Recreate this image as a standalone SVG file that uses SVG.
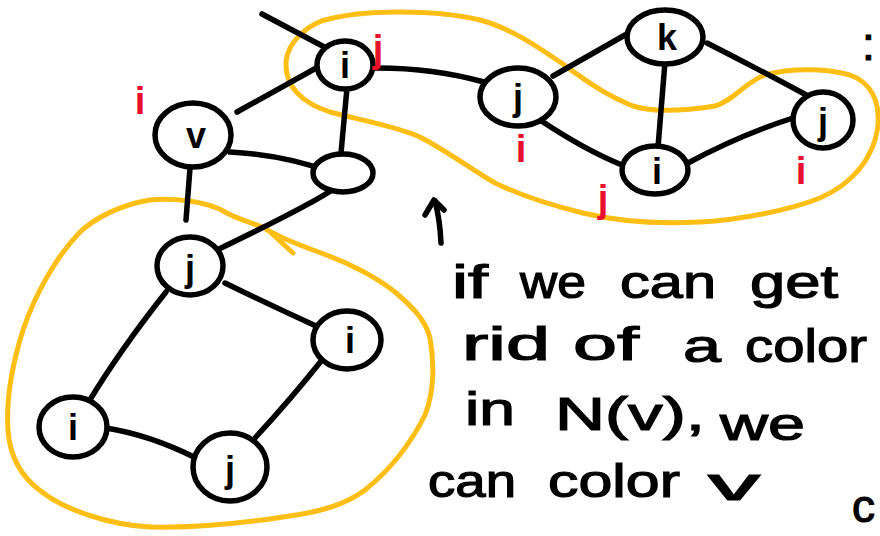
<svg xmlns="http://www.w3.org/2000/svg" width="880" height="536" viewBox="0 0 880 536">
  <style>
    .ink { fill: none; stroke: #000; stroke-width: 5.5; stroke-linecap: round; stroke-linejoin: round; }
    .node { fill: #fff; stroke: #000; stroke-width: 5.5; }
    .hl { fill: none; stroke: #FFBE14; stroke-width: 5; stroke-linecap: round; stroke-linejoin: round; }
    .lbl { font-family: "Liberation Sans", Arial, sans-serif; font-weight: bold; font-size: 36px; fill: #000; text-anchor: middle; }
    .red { font-family: "Liberation Sans", Arial, sans-serif; font-weight: bold; font-size: 38px; fill: #E8112D; text-anchor: middle; }
    .note { font-family: "Liberation Sans", Arial, sans-serif; font-size: 46px; fill: #000; stroke: #000; stroke-width: 1.2; }
  </style>
  <rect width="880" height="536" fill="#fff"/>

  <!-- highlight loops -->
  <g id="highlights">
    <path class="hl" d="M400,12 C430,12 455,14 480,20 C510,28 535,45 560,62 C585,80 605,95 633,106 C655,113 690,110 715,106 C735,100 745,82 765,75 C790,68 825,68 850,75 C870,82 880,100 878,125 C874,160 850,185 820,198 C790,210 740,220 700,222 C660,224 620,222 583,213 C550,205 520,195 495,183 C470,168 445,150 420,137 C395,126 360,120 330,112 C300,102 285,85 286,62 C288,40 310,22 333,18 C360,12 385,12 400,12 Z"/>
    <path class="hl" d="M293,253 L267,229 C250,222 235,218 225,212 C205,200 170,198 150,200 C120,205 95,218 80,232 C55,258 35,295 23,330 C12,365 6,400 8,430 C10,460 25,480 42,492 C65,510 110,525 150,527 C185,528 240,524 283,517 C320,512 345,505 365,490 C390,470 410,445 425,415 C435,390 434,360 430,338 C425,318 410,305 395,292 C380,280 365,272 350,265 C330,255 310,250 283,238 L267,230"/>
  </g>

  <!-- connectors -->
  <g id="edges" class="ink">
    <path d="M262,14 L330,50"/>
    <path d="M237,112 L318,67"/>
    <path d="M230,152 Q285,155 330,172"/>
    <path d="M347,88 L341,153"/>
    <path d="M190,168 L186,220"/>
    <path d="M332,190 Q310,205 217,250"/>
    <path d="M370,68 Q430,67 484,82"/>
    <path d="M553,76 L625,35"/>
    <path d="M540,120 Q585,150 622,165"/>
    <path d="M665,62 L658,147"/>
    <path d="M707,43 Q760,70 810,97"/>
    <path d="M688,163 Q740,135 793,118"/>
    <path d="M225,283 Q270,305 316,326"/>
    <path d="M166,292 Q120,350 88,403"/>
    <path d="M322,360 Q290,400 255,438"/>
    <path d="M106,428 Q150,435 196,458"/>
  </g>

  <!-- nodes -->
  <g id="node-v">
    <ellipse class="node" cx="193" cy="135" rx="38" ry="32"/>
    <text class="lbl" x="196" y="148">v</text>
  </g>
  <g id="node-i-top">
    <ellipse class="node" cx="345" cy="65" rx="28" ry="24"/>
    <text class="lbl" x="345" y="78">i</text>
  </g>
  <g id="node-blank">
    <ellipse class="node" cx="343" cy="173" rx="30" ry="19"/>
  </g>
  <g id="node-j-mid">
    <ellipse class="node" cx="518" cy="97" rx="38" ry="29"/>
    <text class="lbl" x="518" y="110">j</text>
  </g>
  <g id="node-k">
    <ellipse class="node" cx="665" cy="37" rx="38" ry="27"/>
    <text class="lbl" x="667" y="50">k</text>
  </g>
  <g id="node-i-low">
    <ellipse class="node" cx="655" cy="170" rx="33" ry="24"/>
    <text class="lbl" x="657" y="184">i</text>
  </g>
  <g id="node-j-right">
    <ellipse class="node" cx="823" cy="120" rx="30" ry="28"/>
    <text class="lbl" x="823" y="134">j</text>
  </g>
  <g id="node-j-a">
    <ellipse class="node" cx="190" cy="266" rx="33" ry="29"/>
    <text class="lbl" x="190" y="281">j</text>
  </g>
  <g id="node-i-a">
    <ellipse class="node" cx="347" cy="340" rx="34" ry="29"/>
    <text class="lbl" x="350" y="353">i</text>
  </g>
  <g id="node-i-b">
    <ellipse class="node" cx="73" cy="427" rx="34" ry="30"/>
    <text class="lbl" x="73" y="440">i</text>
  </g>
  <g id="node-j-b">
    <ellipse class="node" cx="230" cy="467" rx="37" ry="34"/>
    <text class="lbl" x="230" y="482">j</text>
  </g>

  <!-- colour swap marks -->
  <g id="swap-marks">
    <text class="red" x="140" y="114">i</text>
    <text class="red" x="378" y="62">j</text>
    <text class="red" x="521" y="162">i</text>
    <text class="red" x="603" y="212">j</text>
    <text class="red" x="801" y="184">i</text>
  </g>

  <!-- arrow pointing at the chain -->
  <g id="pointer" class="ink">
    <path d="M441,243 Q440,220 435,201"/>
    <path d="M425,215 L434,200 L444,210"/>
  </g>

  <!-- note -->
  <g id="note" class="note">
    <text x="452" y="298" textLength="36" lengthAdjust="spacingAndGlyphs">if</text>
    <text x="520" y="298" textLength="66" lengthAdjust="spacingAndGlyphs">we</text>
    <text x="620" y="298" textLength="96" lengthAdjust="spacingAndGlyphs">can</text>
    <text x="750" y="298" textLength="88" lengthAdjust="spacingAndGlyphs">get</text>
    <text x="462" y="360" textLength="88" lengthAdjust="spacingAndGlyphs">rid</text>
    <text x="573" y="360" textLength="66" lengthAdjust="spacingAndGlyphs">of</text>
    <text x="683" y="362" textLength="38" lengthAdjust="spacingAndGlyphs">a</text>
    <text x="745" y="362" textLength="122" lengthAdjust="spacingAndGlyphs">color</text>
    <text x="465" y="425" textLength="50" lengthAdjust="spacingAndGlyphs">in</text>
    <text x="555" y="430" textLength="150" lengthAdjust="spacingAndGlyphs">N(v),</text>
    <text x="720" y="440" textLength="85" lengthAdjust="spacingAndGlyphs">we</text>
    <text x="428" y="497" textLength="88" lengthAdjust="spacingAndGlyphs">can</text>
    <text x="548" y="497" textLength="132" lengthAdjust="spacingAndGlyphs">color</text>
    <text x="708" y="500" textLength="52" lengthAdjust="spacingAndGlyphs">v</text>
    <text x="862" y="60">:</text>
    <text x="852" y="522">c</text>
  </g>
</svg>
